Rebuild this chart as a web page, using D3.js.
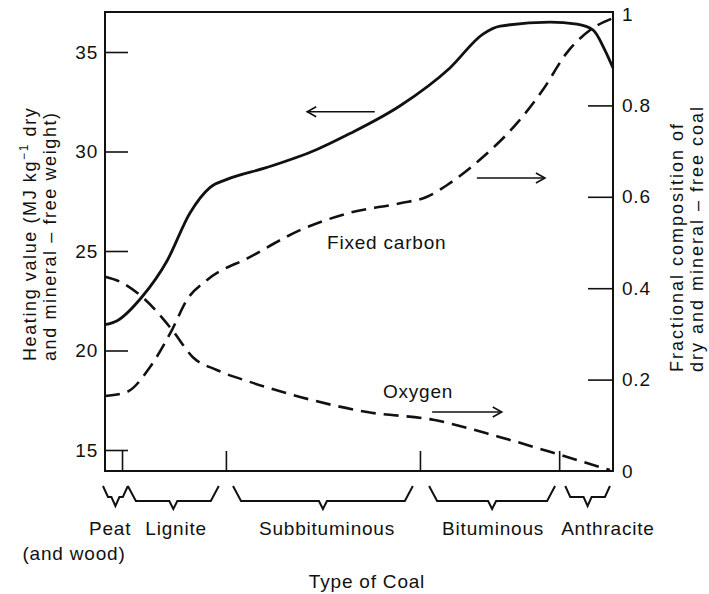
<!DOCTYPE html>
<html>
<head>
<meta charset="utf-8">
<script src="https://cdn.jsdelivr.net/npm/d3@7"></script>
<style>
  body { margin: 0; background: #fff; }
  text { font-family: "Liberation Sans", Arial, sans-serif; fill: #111; letter-spacing: 0.8px; }
</style>
</head>
<body>
<div id="chart"></div>
<script>
// rank along the coal series, 0 (peat) .. 100 (anthracite)
var heatX   = [0, 2.4, 7.3, 12.2, 16.7, 20.7, 24.0, 31.9, 41.7, 48.2, 58.1, 67.9, 74.4, 77.8, 87.6, 92.9, 96.1, 98.4, 100];
var heatVal = [21.3, 21.5, 22.7, 24.5, 26.9, 28.2, 28.6, 29.2, 30.1, 30.9, 32.3, 34.2, 35.9, 36.3, 36.5, 36.4, 36.1, 35.1, 34.2];

var carbonX   = [0, 4.3, 8.9, 13.2, 16.1, 20.1, 28.5, 38.4, 48.2, 58.1, 63.4, 67.9, 74.4, 81.1, 86.2, 90.9, 95.5, 100];
var carbonVal = [0.164, 0.173, 0.228, 0.309, 0.374, 0.418, 0.468, 0.527, 0.565, 0.586, 0.600, 0.630, 0.687, 0.761, 0.834, 0.915, 0.965, 0.991];

var oxyX   = [0, 3.0, 7.3, 13.2, 17.3, 22.0, 28.5, 38.4, 51.6, 64.6, 77.8, 87.6, 99.4];
var oxyVal = [0.425, 0.414, 0.381, 0.309, 0.249, 0.221, 0.195, 0.162, 0.129, 0.112, 0.074, 0.042, 0.002];

var leftTicks  = [15, 20, 25, 30, 35];
var rightTicks = [0, 0.2, 0.4, 0.6, 0.8, 1];
var rankBreaks = [3.35, 23.8, 62.0, 89.4];

var coalTypes  = ["Peat", "Lignite", "Subbituminous", "Bituminous", "Anthracite"];
var coalStart  = [-0.4, 4.5, 25.2, 63.8, 90.6];
var coalEnd    = [4.5, 22.4, 60.6, 88.6, 99.4];
var coalLabelAt = [1.0, 14.0, 43.7, 76.4, 99.0];

var W = 709, H = 594;
var svg = d3.select("#chart").append("svg").attr("width", W).attr("height", H);

var x  = d3.scaleLinear().domain([0, 100]).range([105, 613]);
var yL = d3.scaleLinear().domain([15, 35]).range([450, 52]);
var yR = d3.scaleLinear().domain([0, 1]).range([471, 14]);

var plotTop = 12, plotBottom = 471;

// frame
svg.append("rect")
  .attr("x", x(0)).attr("y", plotTop)
  .attr("width", x(100) - x(0)).attr("height", plotBottom - plotTop)
  .attr("fill", "none").attr("stroke", "#111").attr("stroke-width", 2);

// left axis
var gL = svg.append("g").attr("transform", `translate(${x(0)},0)`)
  .call(d3.axisLeft(yL).tickValues(leftTicks).tickSizeInner(-23).tickSizeOuter(0).tickPadding(7));
gL.select(".domain").remove();
gL.selectAll("line").attr("stroke", "#111").attr("stroke-width", 1.6);
gL.selectAll("text").style("font-size", "19px").attr("fill", "#111");

// right axis
var gR = svg.append("g").attr("transform", `translate(${x(100)},0)`)
  .call(d3.axisRight(yR).tickValues(rightTicks).tickFormat(d => d === 0 || d === 1 ? d : d3.format(".1f")(d))
    .tickSizeInner(-25).tickSizeOuter(0).tickPadding(9));
gR.select(".domain").remove();
gR.selectAll(".tick").filter(d => d === 0 || d === 1).select("line").remove();
gR.selectAll("line").attr("stroke", "#111").attr("stroke-width", 1.6);
gR.selectAll("text").style("font-size", "19px").attr("fill", "#111");

// bottom ticks at rank boundaries
var gB = svg.append("g").attr("transform", `translate(0,${plotBottom})`)
  .call(d3.axisBottom(x).tickValues(rankBreaks).tickFormat("").tickSizeInner(-20).tickSizeOuter(0));
gB.select(".domain").remove();
gB.selectAll("line").attr("stroke", "#111").attr("stroke-width", 1.6);

// curves
var heatLine = d3.line().x(d => x(d[0])).y(d => yL(d[1])).curve(d3.curveMonotoneX);
var fracLine = d3.line().x(d => x(d[0])).y(d => yR(d[1])).curve(d3.curveMonotoneX);

svg.append("path")
  .datum(d3.zip(heatX, heatVal))
  .attr("d", heatLine)
  .attr("fill", "none").attr("stroke", "#111").attr("stroke-width", 2.8);

svg.append("path")
  .datum(d3.zip(carbonX, carbonVal))
  .attr("d", fracLine)
  .attr("fill", "none").attr("stroke", "#111").attr("stroke-width", 2.6)
  .attr("stroke-dasharray", "15,8");

svg.append("path")
  .datum(d3.zip(oxyX, oxyVal))
  .attr("d", fracLine)
  .attr("fill", "none").attr("stroke", "#111").attr("stroke-width", 2.6)
  .attr("stroke-dasharray", "15,8");

// arrows
function arrow(x1, x2, y, dir) {
  var g = svg.append("g").attr("stroke", "#111").attr("stroke-width", 1.6).attr("fill", "none");
  g.append("line").attr("x1", x1).attr("x2", x2).attr("y1", y).attr("y2", y);
  var tip = dir < 0 ? x1 : x2;
  var back = tip - dir * 9;
  g.append("path").attr("d", `M${back},${y - 5}L${tip},${y}L${back},${y + 5}`);
}
arrow(x(39.8), x(53.1), yL(32.0), -1);
arrow(x(73.2), x(86.6), yR(0.641), 1);
arrow(x(64.4), x(78.1), yR(0.129), 1);

svg.append("text").attr("x", x(43.7)).attr("y", yR(0.501))
  .attr("dominant-baseline", "central").style("font-size", "19px").text("Fixed carbon");
svg.append("text").attr("x", x(54.7)).attr("y", yR(0.173))
  .attr("dominant-baseline", "central").style("font-size", "19px").text("Oxygen");

// braces under the axis
coalTypes.forEach(function(name, i) {
  var x0 = x(coalStart[i]), x1 = x(coalEnd[i]), m = (x0 + x1) / 2;
  var small = (i === 0 || i === 4);
  var y0 = 486, y1 = small ? 497 : 501, y2 = small ? 506 : 509, s = small ? 5 : 8;
  var d = `M${x0},${y0}L${x0 + s},${y1}L${m - 4},${y1}L${m},${y2}L${m + 4},${y1}L${x1 - s},${y1}L${x1},${y0}`;
  svg.append("path").attr("d", d).attr("fill", "none").attr("stroke", "#111").attr("stroke-width", 2);
  svg.append("text").attr("x", x(coalLabelAt[i])).attr("y", 528)
    .attr("text-anchor", "middle").attr("dominant-baseline", "central")
    .style("font-size", "19px").text(name);
});
svg.append("text").attr("x", 74).attr("y", 553)
  .attr("text-anchor", "middle").attr("dominant-baseline", "central")
  .style("font-size", "19px").text("(and wood)");

svg.append("text").attr("x", 367).attr("y", 581)
  .attr("text-anchor", "middle").attr("dominant-baseline", "central")
  .style("font-size", "19px").text("Type of Coal");

// axis titles
var tl = svg.append("text").attr("transform", "translate(30,361) rotate(-90)")
  .attr("dominant-baseline", "central").style("font-size", "18px").style("letter-spacing", "1.6px");
tl.append("tspan").text("Heating value (MJ kg");
tl.append("tspan").attr("dy", -6).style("font-size", "12px").text("\u22121");
tl.append("tspan").attr("dy", 6).text("  dry");
svg.append("text").attr("transform", "translate(50,361) rotate(-90)")
  .attr("dominant-baseline", "central").style("font-size", "18px").style("letter-spacing", "1.6px")
  .text("and mineral \u2013 free weight)");

svg.append("text").attr("transform", "translate(677,372) rotate(-90)")
  .attr("dominant-baseline", "central").style("font-size", "18px").style("letter-spacing", "2px")
  .text("Fractional composition of");
svg.append("text").attr("transform", "translate(697,372) rotate(-90)")
  .attr("dominant-baseline", "central").style("font-size", "18px").style("letter-spacing", "2px")
  .text("dry and mineral \u2013 free coal");
</script>
</body>
</html>
